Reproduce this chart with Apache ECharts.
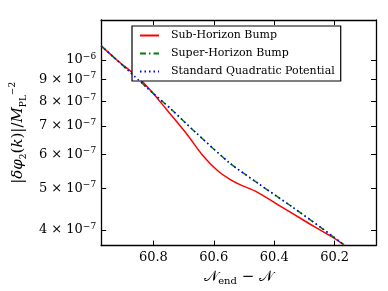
<!DOCTYPE html>
<html><head><meta charset="utf-8">
<script src="https://cdn.jsdelivr.net/npm/echarts@6/dist/echarts.min.js"></script>
<style>html,body{margin:0;padding:0;background:#fff}#c{width:388px;height:291px}</style>
</head><body><div id="c"></div>
<script>
const seriesNames = ['Sub-Horizon Bump', 'Super-Horizon Bump', 'Standard Quadratic Potential'];
const subX = [60.973, 60.918, 60.854, 60.806, 60.757, 60.719, 60.687, 60.638, 60.587, 60.548, 60.510, 60.458, 60.394, 60.297, 60.211, 60.169];
const subY = [1.078e-6, 9.95e-7, 9.13e-7, 8.43e-7, 7.66e-7, 7.11e-7, 6.67e-7, 5.99e-7, 5.50e-7, 5.26e-7, 5.09e-7, 4.91e-7, 4.61e-7, 4.19e-7, 3.86e-7, 3.69e-7];
const superX = [60.973, 60.886, 60.822, 60.741, 60.661, 60.548, 60.452, 60.339, 60.243, 60.169];
const superY = [1.078e-6, 9.48e-7, 8.61e-7, 7.66e-7, 6.77e-7, 5.74e-7, 5.13e-7, 4.52e-7, 4.04e-7, 3.69e-7];
const stdX = [60.973, 60.886, 60.822, 60.741, 60.661, 60.548, 60.452, 60.339, 60.243, 60.169];
const stdY = [1.078e-6, 9.48e-7, 8.61e-7, 7.66e-7, 6.77e-7, 5.74e-7, 5.13e-7, 4.52e-7, 4.04e-7, 3.69e-7];
const xTicks = [60.2, 60.4, 60.6, 60.8];
const yTickValues = [4e-7, 5e-7, 6e-7, 7e-7, 8e-7, 9e-7, 1e-6];
const yTickMantissa = ['4 × 10', '5 × 10', '6 × 10', '7 × 10', '8 × 10', '9 × 10', '10'];
const yTickExponent = ['−7', '−7', '−7', '−7', '−7', '−7', '−6'];
const xRange = [60.063, 60.973];
const yRange = [3.675e-7, 1.239e-6];

const SERIF = 'DejaVu Serif';
const yTickLog = yTickValues.map(v => Math.log10(v));
const pairs = (xs, ys) => xs.map((x, i) => [x, Math.log10(ys[i])]);

const xAxisBase = {
  type: 'value', inverse: true, min: xRange[0], max: xRange[1],
  axisLine: { show: true, lineStyle: { color: '#000', width: 1.3 } },
  axisTick: { show: true, inside: true, length: 5, customValues: xTicks, lineStyle: { color: '#000', width: 1 } },
  splitLine: { show: false }
};
const yAxisBase = {
  type: 'value', min: Math.log10(yRange[0]), max: Math.log10(yRange[1]),
  axisLine: { show: true, lineStyle: { color: '#000', width: 1.3 } },
  axisTick: { show: true, inside: true, length: 5, customValues: yTickLog, lineStyle: { color: '#000', width: 1 } },
  splitLine: { show: false }
};

const chart = echarts.init(document.getElementById('c'));
chart.setOption({
  animation: false,
  backgroundColor: '#fff',
  grid: { left: 93, top: 20, right: 12, bottom: 44 },
  legend: {
    data: seriesNames, orient: 'vertical', left: 132, top: 26,
    backgroundColor: '#fff', borderColor: '#000', borderWidth: 1.2, borderRadius: 0,
    padding: [4, 6, 4, 7], itemWidth: 19, itemHeight: 11, itemGap: 7,
    itemStyle: { opacity: 0 },
    textStyle: { fontFamily: SERIF, fontSize: 11, color: '#000', padding: [0, 0, 0, 7] }
  },
  xAxis: [
    Object.assign({}, xAxisBase, {
      position: 'bottom',
      axisLabel: { customValues: xTicks, fontFamily: SERIF, fontSize: 13, color: '#000', margin: 6, formatter: v => v.toFixed(1) },
      name: '{i|𝒩}{sub|end}{r| − }{i|𝒩}', nameLocation: 'middle', nameGap: 20,
      nameTextStyle: { rich: {
        i: { fontFamily: SERIF, fontSize: 15, color: '#000', lineHeight: 18 },
        r: { fontFamily: SERIF, fontSize: 15, color: '#000', lineHeight: 18 },
        sub: { fontFamily: SERIF, fontSize: 10, color: '#000', lineHeight: 9, verticalAlign: 'bottom' }
      } }
    }),
    Object.assign({}, xAxisBase, { position: 'top', axisLabel: { show: false } })
  ],
  yAxis: [
    Object.assign({}, yAxisBase, {
      position: 'left',
      axisLabel: {
        customValues: yTickLog, margin: 5,
        formatter: v => {
          const i = yTickLog.findIndex(t => Math.abs(t - v) < 1e-6);
          return i < 0 ? '' : '{m|' + yTickMantissa[i] + '}{s|' + yTickExponent[i] + '}';
        },
        rich: {
          m: { fontFamily: SERIF, fontSize: 13, color: '#000', lineHeight: 16 },
          s: { fontFamily: SERIF, fontSize: 9, color: '#000', lineHeight: 8, verticalAlign: 'top' }
        }
      },
      name: '{r||}{i|δφ}{sub|2}{r|(}{i|k}{r|)|/}{i|M}{sub|PL}{sup|−2}', nameLocation: 'middle', nameRotate: 90, nameGap: 69,
      nameTextStyle: { rich: {
        i: { fontFamily: SERIF, fontStyle: 'italic', fontSize: 15, color: '#000', lineHeight: 20 },
        r: { fontFamily: SERIF, fontSize: 15, color: '#000', lineHeight: 20 },
        sub: { fontFamily: SERIF, fontSize: 9, color: '#000', lineHeight: 9, verticalAlign: 'bottom' },
        sup: { fontFamily: SERIF, fontSize: 9, color: '#000', lineHeight: 9, verticalAlign: 'top' }
      } }
    }),
    Object.assign({}, yAxisBase, { position: 'right', axisLabel: { show: false } })
  ],
  series: [
    { name: seriesNames[0], type: 'line', data: pairs(subX, subY), symbol: 'none', showSymbol: false, smooth: 0.25,
      lineStyle: { color: '#ff0000', width: 1.5 }, itemStyle: { color: '#ff0000' }, z: 2 },
    { name: seriesNames[1], type: 'line', data: pairs(superX, superY), symbol: 'none', showSymbol: false, smooth: 0.25,
      lineStyle: { color: '#008000', width: 1.5, type: [6, 3, 1.5, 3] }, itemStyle: { color: '#008000' }, z: 3 },
    { name: seriesNames[2], type: 'line', data: pairs(stdX, stdY), symbol: 'none', showSymbol: false, smooth: 0.25,
      lineStyle: { color: '#0000ff', width: 1.5, type: [1.5, 3] }, itemStyle: { color: '#0000ff' }, z: 4 }
  ]
});
</script></body></html>
